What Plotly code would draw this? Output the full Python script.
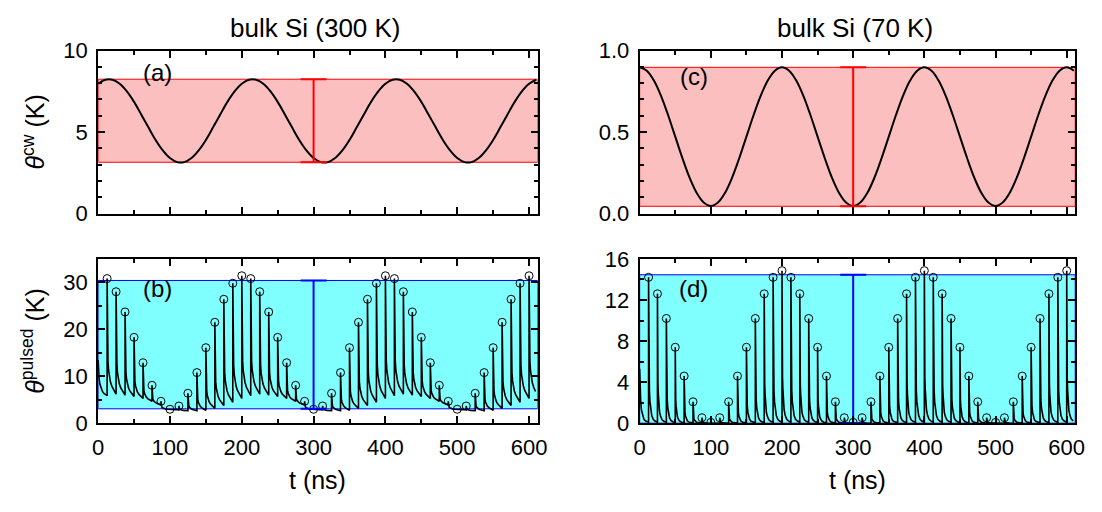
import plotly.graph_objects as go

# ---------------- data ----------------
# cw curves, sampled every 10 ns
t_cw = list(range(0, 611, 10))
theta_cw_300K = [7.96, 8.21, 8.21, 7.96, 7.49, 6.85, 6.08, 5.29, 4.52, 3.88,
                 3.41, 3.16, 3.16, 3.41, 3.88, 4.52, 5.29, 6.08, 6.85, 7.49,
                 7.96, 8.21, 8.21, 7.96, 7.49, 6.85, 6.08, 5.29, 4.52, 3.88,
                 3.41, 3.16, 3.16, 3.41, 3.88, 4.52, 5.29, 6.08, 6.85, 7.49,
                 7.96, 8.21, 8.21, 7.96, 7.49, 6.85, 6.08, 5.29, 4.52, 3.88,
                 3.41, 3.16, 3.16, 3.41, 3.88, 4.52, 5.29, 6.08, 6.85, 7.49,
                 7.96, 8.21]
theta_cw_70K = [0.897, 0.876, 0.816, 0.722, 0.603, 0.472, 0.341, 0.222, 0.128, 0.068,
                0.047, 0.068, 0.128, 0.222, 0.341, 0.472, 0.603, 0.722, 0.816, 0.876,
                0.897, 0.876, 0.816, 0.722, 0.603, 0.472, 0.341, 0.222, 0.128, 0.068,
                0.047, 0.068, 0.128, 0.222, 0.341, 0.472, 0.603, 0.722, 0.816, 0.876,
                0.897, 0.876, 0.816, 0.722, 0.603, 0.472, 0.341, 0.222, 0.128, 0.068,
                0.047, 0.068, 0.128, 0.222, 0.341, 0.472, 0.603, 0.722, 0.816, 0.876,
                0.897, 0.876]

# pulse arrival times (ns)
pulse_t = [12.5, 25.0, 37.5, 50.0, 62.5, 75.0, 87.5, 100.0, 112.5, 125.0, 137.5, 150.0,
           162.5, 175.0, 187.5, 200.0, 212.5, 225.0, 237.5, 250.0, 262.5, 275.0, 287.5, 300.0,
           312.5, 325.0, 337.5, 350.0, 362.5, 375.0, 387.5, 400.0, 412.5, 425.0, 437.5, 450.0,
           462.5, 475.0, 487.5, 500.0, 512.5, 525.0, 537.5, 550.0, 562.5, 575.0, 587.5, 600.0]

# peak temperatures (markers)
peaks_300K = [30.8, 28.0, 23.7, 18.3, 12.9, 8.1, 4.7, 3.0, 3.7, 6.4, 10.8, 16.1, 21.5, 26.4, 29.8, 31.4,
              30.8, 28.0, 23.7, 18.3, 12.9, 8.1, 4.7, 3.0, 3.7, 6.4, 10.8, 16.1, 21.5, 26.4, 29.8, 31.4,
              30.8, 28.0, 23.7, 18.3, 12.9, 8.1, 4.7, 3.0, 3.7, 6.4, 10.8, 16.1, 21.5, 26.4, 29.8, 31.4]
peaks_70K = [14.2, 12.6, 10.2, 7.4, 4.6, 2.1, 0.55, 0.1, 0.55, 2.1, 4.6, 7.4, 10.2, 12.6, 14.2, 14.85,
             14.2, 12.6, 10.2, 7.4, 4.6, 2.1, 0.55, 0.1, 0.55, 2.1, 4.6, 7.4, 10.2, 12.6, 14.2, 14.85,
             14.2, 12.6, 10.2, 7.4, 4.6, 2.1, 0.55, 0.1, 0.55, 2.1, 4.6, 7.4, 10.2, 12.6, 14.2, 14.85]

# temperature just before each pulse (and after the last one)
troughs_300K = [5.9, 6.2, 6.0, 5.7, 5.3, 4.7, 4.0, 2.95, 2.9, 2.7, 2.7, 2.8, 3.2, 3.8, 4.5, 5.3,
                5.9, 6.2, 6.0, 5.7, 5.3, 4.7, 4.0, 2.95, 2.9, 2.7, 2.7, 2.8, 3.2, 3.8, 4.5, 5.3,
                5.9, 6.2, 6.0, 5.7, 5.3, 4.7, 4.0, 2.95, 2.9, 2.7, 2.7, 2.8, 3.2, 3.8, 4.5, 5.3,
                5.9]
troughs_70K = [0.12, 0.12, 0.10, 0.08, 0.06, 0.04, 0.03, 0.02, 0.02, 0.02, 0.03, 0.04, 0.06, 0.08, 0.10, 0.12,
               0.12, 0.12, 0.10, 0.08, 0.06, 0.04, 0.03, 0.02, 0.02, 0.02, 0.03, 0.04, 0.06, 0.08, 0.10, 0.12,
               0.12, 0.12, 0.10, 0.08, 0.06, 0.04, 0.03, 0.02, 0.02, 0.02, 0.03, 0.04, 0.06, 0.08, 0.10, 0.12,
               0.12]

# start of the pulsed traces (tail of the pulse at t = 0)
start_t = [0, 0.6, 1.4, 2.5, 4.0, 6.0, 8.5, 12.5]
start_300K = [13.5, 11.0, 9.4, 8.3, 7.4, 6.8, 6.3, 5.9]
start_70K = [5.3, 3.4, 2.2, 1.3, 0.75, 0.4, 0.22, 0.12]

# shape of the decay after a pulse (fraction of the excess left vs. delay, ns)
decay_dt = [0, 0.3, 0.7, 1.2, 2.0, 3.0, 4.5, 6.5, 9.0, 12.5]
decay_frac_300K = [1.0, 0.55, 0.38, 0.29, 0.21, 0.155, 0.11, 0.07, 0.035, 0.0]
decay_frac_70K = [1.0, 0.45, 0.30, 0.22, 0.14, 0.08, 0.045, 0.02, 0.008, 0.0]

# modulation range (bands and error bars)
band_300K_cw = [3.15, 8.24]
band_70K_cw = [0.045, 0.897]
band_300K_pulsed = [3.1, 30.4]
band_70K_pulsed = [0.02, 14.45]
t_errbar = 300

titles = ["bulk Si (300 K)", "bulk Si (70 K)"]
panel_labels = ["(a)", "(b)", "(c)", "(d)"]
panel_label_pos = [(82, 8.63), (82, 28.6), (76, 0.84), (76, 13.1)]

T_RANGE = [0, 612]

# ---------------- figure ----------------
W, H = 1102, 512
FONT = "Liberation Sans, Arial, sans-serif"
RED = "rgb(255,0,0)"
PINK = "rgb(251,191,191)"
BLUE = "rgb(0,0,255)"
CYAN = "rgb(128,255,255)"


def build_pulsed(st, sv, peaks, troughs, dts, fracs):
    xs, ys = list(st), list(sv)
    for k, (t0, p) in enumerate(zip(pulse_t, peaks)):
        nxt = troughs[k + 1]
        xs.append(t0)
        ys.append(troughs[k])
        for dt, g in zip(dts, fracs):
            t = t0 + dt
            if t > T_RANGE[1]:
                break
            xs.append(t)
            ys.append(nxt + (p - nxt) * g)
    return xs, ys


fig = go.Figure()


def add_band(xa, ya, band, fill, line):
    lo, hi = band
    fig.add_trace(go.Scatter(
        x=[T_RANGE[0], T_RANGE[1], T_RANGE[1], T_RANGE[0], T_RANGE[0]],
        y=[lo, lo, hi, hi, lo], mode="lines", fill="toself", fillcolor=fill,
        line=dict(color=line, width=1), xaxis=xa, yaxis=ya,
        showlegend=False, hoverinfo="skip"))


def add_errbar(xa, ya, band, color):
    lo, hi = band
    mid = (lo + hi) / 2
    fig.add_trace(go.Scatter(
        x=[t_errbar], y=[mid], mode="markers", marker=dict(size=1, opacity=0),
        error_y=dict(type="data", symmetric=False, array=[hi - mid], arrayminus=[mid - lo],
                     color=color, thickness=2, width=13),
        xaxis=xa, yaxis=ya, showlegend=False, hoverinfo="skip"))


# (a)
add_band("x", "y", band_300K_cw, PINK, RED)
fig.add_trace(go.Scatter(x=t_cw, y=theta_cw_300K, mode="lines", line=dict(color="black", width=2, shape="spline"),
                         xaxis="x", yaxis="y", showlegend=False))
add_errbar("x", "y", band_300K_cw, RED)

# (c)
add_band("x2", "y2", band_70K_cw, PINK, RED)
fig.add_trace(go.Scatter(x=t_cw, y=theta_cw_70K, mode="lines", line=dict(color="black", width=2, shape="spline"),
                         xaxis="x2", yaxis="y2", showlegend=False))
add_errbar("x2", "y2", band_70K_cw, RED)

# (b)
add_band("x3", "y3", band_300K_pulsed, CYAN, BLUE)
xb, yb = build_pulsed(start_t, start_300K, peaks_300K, troughs_300K, decay_dt, decay_frac_300K)
fig.add_trace(go.Scatter(x=xb, y=yb, mode="lines", line=dict(color="black", width=1.6),
                         xaxis="x3", yaxis="y3", showlegend=False))
fig.add_trace(go.Scatter(x=pulse_t, y=peaks_300K, mode="markers",
                         marker=dict(symbol="circle-open", size=8, color="black", line=dict(width=1)),
                         xaxis="x3", yaxis="y3", showlegend=False))
add_errbar("x3", "y3", band_300K_pulsed, BLUE)

# (d)
add_band("x4", "y4", band_70K_pulsed, CYAN, BLUE)
xd, yd = build_pulsed(start_t, start_70K, peaks_70K, troughs_70K, decay_dt, decay_frac_70K)
fig.add_trace(go.Scatter(x=xd, y=yd, mode="lines", line=dict(color="black", width=1.6),
                         xaxis="x4", yaxis="y4", showlegend=False))
fig.add_trace(go.Scatter(x=pulse_t, y=peaks_70K, mode="markers",
                         marker=dict(symbol="circle-open", size=8, color="black", line=dict(width=1)),
                         xaxis="x4", yaxis="y4", showlegend=False))
add_errbar("x4", "y4", band_70K_pulsed, BLUE)

# ---------------- axes ----------------
XL = [93.5 / W, 539.5 / W]
XR = [643 / W, 1085 / W]
YT = [1 - 212 / H, 1 - 40.5 / H]
YB = [1 - 432.5 / H, 1 - 259.5 / H]

tickfont = dict(family=FONT, size=22, color="black")


def xax(domain, anchor, labels):
    return dict(domain=domain, anchor=anchor, range=T_RANGE, dtick=100, tick0=0,
                showticklabels=labels, ticks="inside", ticklen=7, tickwidth=1.5,
                tickcolor="black", showline=True, linecolor="black", linewidth=2,
                mirror="ticks", showgrid=False, zeroline=False, tickfont=tickfont,
                ticklabelstandoff=3,
                minor=dict(dtick=50, ticks="inside", ticklen=4, tickwidth=1.5,
                           tickcolor="black", showgrid=False))


def yax(domain, anchor, rng, dtick, mdtick, fmt=None):
    d = dict(domain=domain, anchor=anchor, range=rng, dtick=dtick, tick0=0,
             ticks="inside", ticklen=7, tickwidth=1.5, tickcolor="black",
             showline=True, linecolor="black", linewidth=2, mirror="ticks",
             showgrid=False, zeroline=False, tickfont=tickfont, ticklabelstandoff=4,
             minor=dict(dtick=mdtick, ticks="inside", ticklen=4, tickwidth=1.5,
                        tickcolor="black", showgrid=False))
    if fmt:
        d["tickformat"] = fmt
    return d


fig.update_layout(
    width=W, height=H, margin=dict(l=0, r=0, t=0, b=0),
    paper_bgcolor="white", plot_bgcolor="white",
    font=dict(family=FONT, color="black"),
    xaxis=xax(XL, "y", False), yaxis=yax(YT, "x", [0, 10], 5, 1),
    xaxis2=xax(XR, "y2", False), yaxis2=yax(YT, "x2", [0, 1.0], 0.5, 0.1, ".1f"),
    xaxis3=xax(XL, "y3", True), yaxis3=yax(YB, "x3", [0, 35], 10, 5),
    xaxis4=xax(XR, "y4", True), yaxis4=yax(YB, "x4", [0, 16], 4, 2),
)

ann = []
# column titles
for txt, cx in zip(titles, [314, 862]):
    ann.append(dict(text=txt, x=cx / W, y=1 - 17 / H, xref="paper", yref="paper",
                    xanchor="center", yanchor="middle", showarrow=False,
                    font=dict(family=FONT, size=26, color="black")))
# x titles
for cx in [316, 864]:
    ann.append(dict(text="t (ns)", x=cx / W, y=1 - 492 / H, xref="paper", yref="paper",
                    xanchor="center", yanchor="middle", showarrow=False,
                    font=dict(family=FONT, size=25, color="black")))
# y titles
ann.append(dict(text="<i>θ</i><sup>cw</sup> (K)", x=28 / W, y=1 - 126 / H, xref="paper", yref="paper",
                xanchor="center", yanchor="middle", textangle=-90, showarrow=False,
                font=dict(family=FONT, size=25, color="black")))
ann.append(dict(text="<i>θ</i><sup>pulsed</sup> (K)", x=28 / W, y=1 - 346 / H, xref="paper", yref="paper",
                xanchor="center", yanchor="middle", textangle=-90, showarrow=False,
                font=dict(family=FONT, size=25, color="black")))
# panel labels
for lab, (px, py), (xr, yr) in zip(panel_labels, panel_label_pos,
                                   [("x", "y"), ("x3", "y3"), ("x2", "y2"), ("x4", "y4")]):
    ann.append(dict(text=lab, x=px, y=py, xref=xr, yref=yr, xanchor="center", yanchor="middle",
                    showarrow=False, font=dict(family=FONT, size=24, color="black")))

fig.update_layout(annotations=ann)
fig.write_html("out.html")
